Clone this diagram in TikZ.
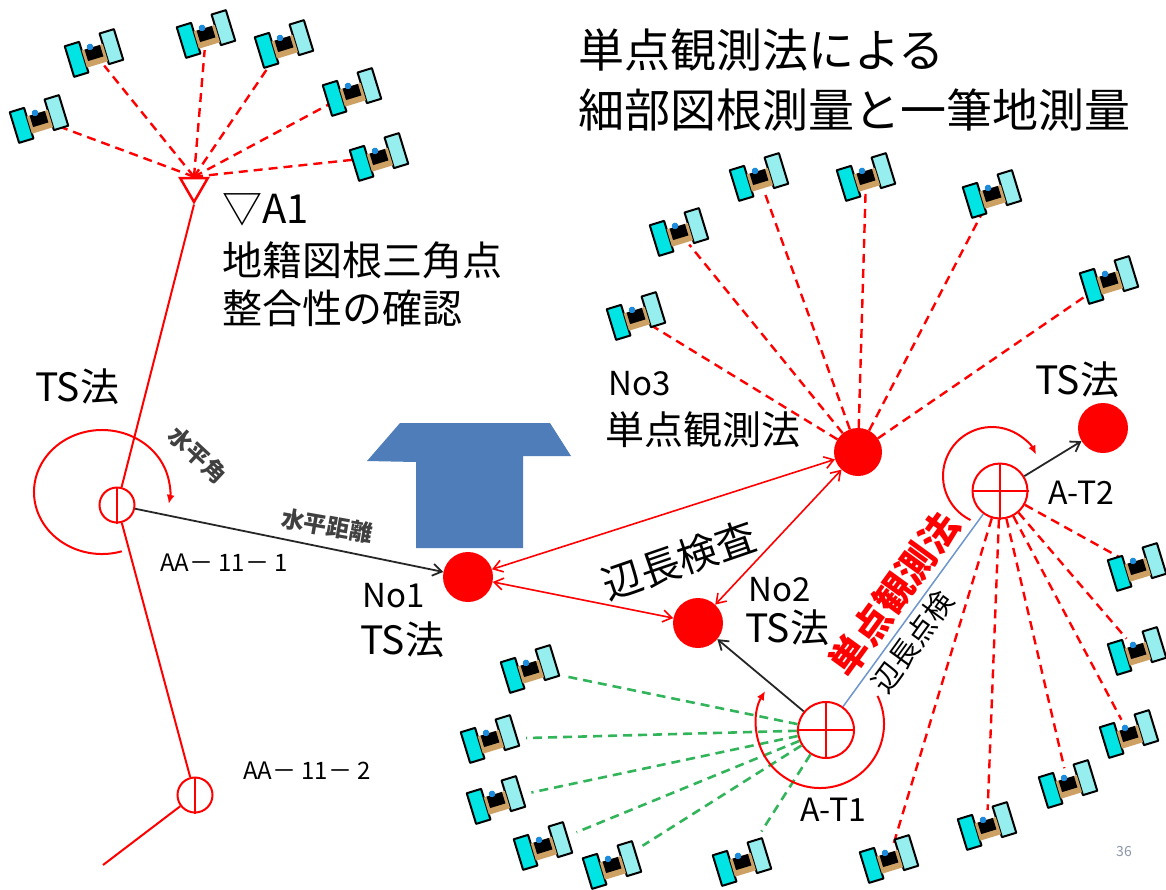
\documentclass[tikz,border=0pt]{standalone}
\usepackage{fontspec}
\newfontfamily\jp{Noto Sans CJK JP}
\usetikzlibrary{arrows.meta,shapes.geometric}

\definecolor{satcyan}{RGB}{0,228,228}
\definecolor{satpale}{RGB}{150,238,238}
\definecolor{sattan}{RGB}{205,160,100}
\definecolor{satdot}{RGB}{30,140,220}
\definecolor{houseblue}{RGB}{79,125,185}
\definecolor{gpsgreen}{RGB}{50,180,90}
\definecolor{linkblue}{RGB}{110,150,205}
\definecolor{pagegray}{RGB}{140,150,170}

\tikzset{
  sat/.pic={
    \begin{scope}[rotate=17, line join=round]
      \filldraw[fill=satcyan, line width=2pt] (-26,-15) rectangle (-11,17);
      \filldraw[fill=satpale, line width=2pt] (11,-17) rectangle (26,15);
      \fill[sattan] (-11,-6) rectangle (11,12);
      \fill[black] (-8,-6) rectangle (8,6);
      \fill[satdot] (-2,-7) circle (3.3);
    \end{scope}
  },
  satnode/.style={circle, minimum size=32pt, inner sep=0pt},
  redray/.style={red, line width=2.4pt, dash pattern=on 9pt off 6pt},
  greenray/.style={gpsgreen, line width=2.6pt, dash pattern=on 9pt off 6pt, shorten >=20pt},
  ptdot/.style={circle, fill=red, inner sep=0pt, minimum size=#1},
  crossmark/.style={circle, draw=red, fill=white, line width=2pt, inner sep=0pt, minimum size=#1},
  distarrow/.style={black!85, line width=1.8pt, -{Straight Barb[length=9pt,width=12pt]}},
  sidecheck/.style={red, line width=1.6pt, {Straight Barb[length=9pt,width=12pt]}-{Straight Barb[length=9pt,width=12pt]}},
  swing/.style={red, line width=2pt, -{Latex[length=9pt,width=8pt]}},
  lbl/.style={inner sep=0pt, anchor=west},
  fs/.style={font=\jp\fontsize{#1}{#1}\selectfont},
  fsb/.style={font=\jp\fontsize{#1}{#1}\selectfont\bfseries},
}

\begin{document}
\begin{tikzpicture}[x=1pt, y=-1pt]
\useasboundingbox (0,0) rectangle (1166,889);
\fill[white] (0,0) rectangle (1166,889);

% building
\fill[houseblue] (400,423) -- (550,423) -- (571,456) -- (523,456) -- (523,548)
  -- (416,548) -- (416,462) -- (367,461) -- cycle;

% traverse: A1 -> AA-11-1 -> AA-11-2
\node[draw=red, line width=2.5pt, regular polygon, regular polygon sides=3,
      shape border rotate=180, minimum size=32pt, inner sep=0pt] (a1) at (194,186) {};
\node[crossmark=35pt] (aa1) at (117,505) {};
\node[crossmark=35pt] (aa2) at (195,795) {};
\coordinate (tail) at (103,865);
\draw[red, line width=2pt] (a1.south) -- (aa1) (aa1) -- (aa2) (aa2) -- (tail);
\draw[red, line width=2pt] (aa1.north) -- (aa1.south) (aa2.north) -- (aa2.south);

% stations
\node[ptdot=50pt] (no1) at (468,577) {};
\node[ptdot=50pt] (no2) at (698,623) {};
\node[ptdot=48pt] (no3) at (858,452) {};
\node[ptdot=50pt] (ts) at (1103,428) {};
\node[crossmark=56pt] (at1) at (826,730) {};
\node[crossmark=55pt] (at2) at (1000,491) {};

% satellites
\foreach \n/\x/\y in {p1/39/119, p2/94/53, p3/206/34, p4/284/44, p5/352/92, p6/379/157,
  q1/636/316, q2/679/232, q3/759/177, q4/866/177, q5/992/194, q6/1109/280,
  r1/1137/567, r2/1137/651, r3/1129/734, r4/1068/784, r5/987/826, r6/889/859,
  g1/530/669, g2/490/739, g3/496/800, g4/543/846, g5/612/865, g6/742/862}
  \node[satnode] (\n) at (\x,\y) {};

% signal rays
\foreach \n in {p1,p2,p3,p4,p5,p6} \draw[redray] (a1.north) -- (\n);
\foreach \n in {q1,q2,q3,q4,q5,q6} \draw[redray] (no3) -- (\n);
\foreach \n in {r1,r2,r3,r4,r5,r6} \draw[redray] (at2) -- (\n);
\foreach \n in {g1,g2,g3,g4,g5,g6} \draw[greenray] (at1) -- (\n);

% crosses in the GNSS stations
\draw[red, line width=2pt] (at1.north) -- (at1.south) (at1.west) -- (at1.east);
\draw[red, line width=2pt] (at2.north) -- (at2.south) (at2.west) -- (at2.east);

% link between A-T1 and A-T2
\draw[linkblue, line width=1.5pt] (at1) -- (at2);

% horizontal angle arcs
\coordinate (aa1c) at (102,492);
\draw[swing] ([shift={(73:68 and 62)}]aa1c) arc[start angle=73, end angle=371, x radius=68, y radius=62];
\coordinate (at2c) at (992,476);
\draw[swing] ([shift={(116:49)}]at2c) arc[start angle=116, end angle=334, radius=49];
\coordinate (at1c) at (820,724);
\draw[swing] ([shift={(-26:64)}]at1c) arc[start angle=-26, end angle=211, radius=64];

% distance measurements
\draw[distarrow] (aa1) -- (no1);
\draw[distarrow] (at1) -- (no2);
\draw[distarrow] (at2) -- (ts);

% side length checks
\draw[sidecheck] (no1) -- (no3);
\draw[sidecheck] (no1) -- (no2);
\draw[sidecheck] (no2) -- (no3);

% satellite icons
\foreach \n in {p1,p2,p3,p4,p5,p6,q1,q2,q3,q4,q5,q6,r1,r2,r3,r4,r5,r6,g1,g2,g3,g4,g5,g6}
  \pic at (\n) {sat};

% labels
\node[lbl, fs=46] (title1) at (578,50) {単点観測法による};
\node[lbl, fs=46] (title2) at (578,110) {細部図根測量と一筆地測量};
\node[lbl, fs=40] (a1name) at (222,210) {▽A1};
\node[lbl, fs=40] (a1desc1) at (222,260) {地籍図根三角点};
\node[lbl, fs=40] (a1desc2) at (222,308) {整合性の確認};
\node[lbl, fs=39] (tsleft) at (35,387) {TS法};
\node[fsb=23, text=black!75, rotate=-43] (hangle) at (198,455) {水平角};
\node[fsb=23, text=black!75, rotate=-10] (hdist) at (327,526) {水平距離};
\node[lbl, fs=24] (aa1name) at (160,563) {AA－ 11－ 1};
\node[lbl, fs=24] (aa2name) at (243,771) {AA－ 11－ 2};
\node[lbl, fs=33] (no1name) at (362,596) {No1};
\node[lbl, fs=39] (no1meth) at (360,640) {TS法};
\node[lbl, fs=33] (no3name) at (608,384) {No3};
\node[lbl, fs=39] (no3meth) at (605,430) {単点観測法};
\node[lbl, fs=33] (no2name) at (748,590) {No2};
\node[lbl, fs=39] (no2meth) at (745,628) {TS法};
\node[lbl, fs=39] (tsmeth) at (1035,380) {TS法};
\node[lbl, fs=32] (at2name) at (1048,493) {A-T2};
\node[lbl, fs=32] (at1name) at (800,810) {A-T1};
\node[fs=40, rotate=19] (sidelbl) at (679,560) {辺長検査};
\node[fsb=38, text=red, rotate=54] (singlelbl) at (894,594) {単点観測法};
\node[fs=29, rotate=54] (checklbl) at (913,642) {辺長点検};
\node[fs=14, text=pagegray] (pageno) at (1124,851) {36};
\end{tikzpicture}
\end{document}
